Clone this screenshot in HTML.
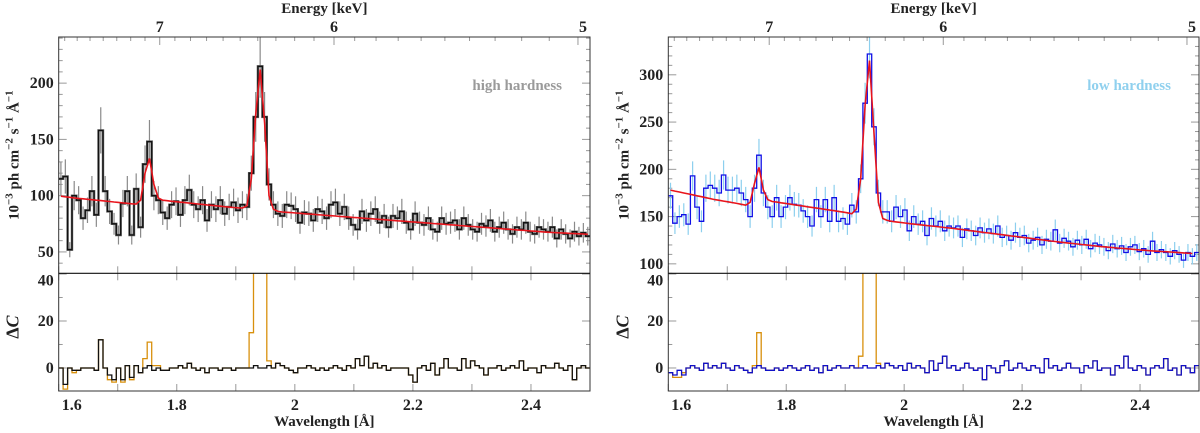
<!DOCTYPE html>
<html><head><meta charset="utf-8"><style>
body{margin:0;background:#fff;width:1200px;height:433px;overflow:hidden}
svg{display:block}
text{font-family:"Liberation Serif","DejaVu Serif",serif;font-weight:bold;fill:#222}
</style></head><body>
<svg id="fig" width="1200" height="433" viewBox="0 0 1200 433" xmlns="http://www.w3.org/2000/svg"></svg>
<script>
// ---- data ----
const binStart = 1.6;
const binWidth = 0.0075;
const xTicksMajor = [1.6, 1.8, 2.0, 2.2, 2.4];
const xTickLabels = ["1.6", "1.8", "2", "2.2", "2.4"];
const energyTicks = [7, 6, 5];
const energyLabels = ["7", "6", "5"];
const yTicksLeft = [50, 100, 150, 200];
const yTicksRight = [100, 150, 200, 250, 300];
const resTicks = [0, 20, 40];

const fluxHigh = [115,117,52,100,96,80,87,104,83,158,104,86,75,65,93,104,65,106,72,128,148,100,96,85,80,92,95,83,96,105,92,88,96,78,92,88,96,84,90,94,87,92,90,120,170,215,170,110,92,84,82,92,91,88,76,85,84,78,88,86,80,92,94,84,90,80,74,70,86,78,84,88,76,82,72,82,80,86,76,70,84,76,74,80,70,68,80,75,76,78,70,80,74,70,68,75,73,78,68,72,76,70,66,72,70,76,68,66,72,70,68,72,62,70,66,62,68,64,67,64];
const modelHigh = [99.5,99,98.5,98,97.6,97.2,96.8,96.4,96,95.6,95.2,94.8,94.4,94,93.6,93.2,92.8,92.5,96,120,133,110,98,96,95.5,95,94.6,94.2,93.8,93.4,93,92.6,92.2,91.8,91.4,91,90.6,90.2,89.8,89.5,89.2,89,91,115,172,212,165,100,88,86,85.5,85.2,84.9,84.6,84.3,84,83.7,83.4,83.1,82.8,82.5,82.2,81.9,81.6,81.3,81,80.7,80.4,80.1,79.8,79.5,79.2,78.9,78.6,78.3,78,77.7,77.4,77.1,76.8,76.5,76.2,75.9,75.6,75.3,75,74.7,74.4,74.1,73.8,73.5,73.2,72.9,72.6,72.3,72,71.7,71.4,71.1,70.8,70.5,70.2,69.9,69.6,69.3,69,68.7,68.4,68.1,67.8,67.5,67.3,67.1,66.9,66.7,66.5,66.3,66.1,65.9,65.7];
const resHigh = [0,-7,0,-1,-1,0,0,0,-1,12,0,-3,-5,0,-5,1,-4,1,-2,0,1,-1,0,-1,-1,0,0,1,0,2,0,-1,0,-2,0,0,-1,0,0,-1,0,0,0,0,1,0,0,1,0,2,1,0,-1,-2,0,0,1,0,-1,0,-1,0,1,0,-1,1,0,4,1,5,0,2,0,1,-1,0,0,0,0,-3,-6,0,1,-1,2,-3,0,4,0,0,-1,4,0,3,1,0,-3,0,0,1,-1,0,1,0,3,-1,0,0,-2,1,0,0,2,0,-1,1,-5,0,1,0];
const noLineBinsHigh = [1,3,11,12,14,16,19,20,21,22,43,44,45,46,47];
const noLineResHigh = [-9,-2,-5,-6,-6,-5,4,11,1,1,15,60,60,60,3];

const fluxLow = [172,143,150,152,142,193,160,145,180,183,180,175,194,178,178,180,175,168,150,180,215,175,160,150,170,150,160,170,163,162,156,150,140,168,150,168,145,170,145,148,142,162,155,190,270,322,245,175,155,155,145,160,150,157,135,150,142,145,130,148,140,145,135,140,138,140,128,137,135,130,138,133,137,132,140,128,130,125,133,128,130,122,125,128,120,126,124,136,122,127,124,118,125,120,126,116,122,120,118,114,121,116,119,112,118,120,113,116,110,124,112,115,112,108,114,110,104,112,108,112];
const modelLow = [178,177,176,175,174,173,172,171,170,169,168,167.2,166.4,165.6,164.8,164,163,162,165,185,202,178,168,166,165.3,164.6,163.9,163.2,162.5,161.8,161.1,160.4,159.7,159,158.3,157.6,156.9,156.2,155.5,154.8,154,153,158,190,268,315,240,165,148,146,145,144.4,143.8,143.2,142.6,142,141.5,141,140.5,140,139.5,139,138.5,138,137.4,136.8,136.2,135.6,135,134.4,133.8,133.2,132.6,132,131.4,130.8,130.2,129.6,129,128.4,127.8,127.2,126.6,126,125.4,124.8,124.2,123.6,123,122.5,122,121.5,121,120.5,120,119.5,119,118.5,118,117.6,117.2,116.8,116.4,116,115.6,115.2,114.8,114.4,114,113.7,113.4,113.1,112.8,112.5,112.2,111.9,111.6,111.3,111];
const resLow = [-2,-3,-1,-3,0,1,0,-1,2,0,1,0,2,0,-1,1,0,-1,-2,0,1,0,-1,-1,0,-1,0,1,0,-1,0,1,-1,0,-2,1,-1,0,1,0,0,1,0,0,1,0,0,1,0,2,1,0,1,-1,2,0,1,0,-2,3,-1,2,5,0,1,-1,0,2,0,-1,0,-5,1,0,-2,1,3,-1,0,2,0,-1,1,0,-2,4,0,1,-1,0,2,0,0,-2,1,0,3,-1,0,0,-3,1,0,5,0,-1,1,0,-3,0,1,0,4,-1,0,-3,1,0,-2,1];
const noLineBinsLow = [1,2,3,19,20,21,43,44,45,46,47];
const noLineResLow = [-4,-4,-2,1,15,0,5,60,60,60,2];

// ---- layout ----
const SVGNS = "http://www.w3.org/2000/svg";
const svg = document.getElementById("fig");
const Y0 = 37, YD = 273.3, Y1 = 391;
const resRange = [-9.8, 40.3];
const panels = [
  {key:"high", x0:58.7, x1:590, yr:[31,241], yt:yTicksLeft, flux:fluxHigh, model:modelHigh, res:resHigh, nlb:noLineBinsHigh, nlr:noLineResHigh,
   dataColor:"#111", fillColor:"#666", errColor:"#8a8a8a", resColor:"#111", label:"high hardness", labelColor:"#9a9a9a", errFrac:0.13},
  {key:"low", x0:668.3, x1:1199, yr:[90,340], yt:yTicksRight, flux:fluxLow, model:modelLow, res:resLow, nlb:noLineBinsLow, nlr:noLineResLow,
   dataColor:"#1010e6", fillColor:null, errColor:"#8ccfee", resColor:"#1010c8", label:"low hardness", labelColor:"#8fd0ee", errFrac:0.08}
];

function el(tag, attrs, parent){
  const e = document.createElementNS(SVGNS, tag);
  for (const k in attrs) e.setAttribute(k, attrs[k]);
  (parent||svg).appendChild(e);
  return e;
}

panels.forEach(p => {
  const g = el("g", {});
  
  
  const xs = v => p.x0 + (v - 1.6) / 0.9 * (p.x1 - p.x0);
  const ys = v => YD - (v - p.yr[0]) / (p.yr[1] - p.yr[0]) * (YD - Y0);
  const yr = v => Y1 - (v - resRange[0]) / (resRange[1] - resRange[0]) * (Y1 - YD);

  const defs = el("defs", {}, g);
  const cp1 = el("clipPath", {id:"cu"+p.key}, defs);
  el("rect", {x:p.x0, y:Y0, width:p.x1-p.x0, height:YD-Y0}, cp1);
  const cp2 = el("clipPath", {id:"cl"+p.key}, defs);
  el("rect", {x:p.x0, y:YD, width:p.x1-p.x0, height:Y1-YD}, cp2);

  const tk = el("g", {stroke:"#999", "stroke-width":1}, g);
  
  
  for (let i = 16; i <= 25; i++) {
    const x = xs(i/10);
    el("line", {x1:x, x2:x, y1:YD, y2:YD-7}, tk);
    el("line", {x1:x, x2:x, y1:YD, y2:YD+7}, tk);
    el("line", {x1:x, x2:x, y1:Y1, y2:Y1-7}, tk);
  }
  for (let e = 5.0; e <= 7.8; e += 0.1) {
    const lam = 12.398 / e; if (lam < 1.6 || lam > 2.5) continue;
    const major = Math.abs(e - Math.round(e)) < 0.01;
    const x = xs(lam);
    el("line", {x1:x, x2:x, y1:Y0, y2:Y0 + (major?8:4)}, tk);
  }
  for (let v = Math.ceil(p.yr[0]/10)*10; v <= p.yr[1]; v += 10) {
    const major = v % 50 === 0, y = ys(v), L = major?8:4;
    el("line", {x1:p.x0, x2:p.x0+L, y1:y, y2:y}, tk);
    el("line", {x1:p.x1, x2:p.x1-L, y1:y, y2:y}, tk);
  }
  for (let v = -10; v <= 40; v += 10) {
    const y = yr(v); if (y > Y1 || y < YD) continue;
    const L = v % 20 === 0 ? 8 : 4;
    el("line", {x1:p.x0, x2:p.x0+L, y1:y, y2:y}, tk);
    el("line", {x1:p.x1, x2:p.x1-L, y1:y, y2:y}, tk);
  }

  const eb = el("g", {stroke:p.errColor, "stroke-width":1.2, "clip-path":"url(#cu"+p.key+")"}, g);
  
  
  p.flux.forEach((v, i) => {
    const x = xs(binStart + binWidth*(i+0.5)), d = v * p.errFrac;
    const l = el("line", {x1:x, x2:x, y1:ys(v-d), y2:ys(v+d)}, eb);
    
    
  });

  const step = (arr, sx, sy) => {
    let d = "";
    arr.forEach((v, i) => {
      const xa = sx(binStart + binWidth*i), xb = sx(binStart + binWidth*(i+1)), y = sy(v);
      d += (i === 0 ? "M" : "L") + xa.toFixed(1) + "," + y.toFixed(1) + "L" + xb.toFixed(1) + "," + y.toFixed(1);
    });
    return d;
  };
  if (p.fillColor) {
    const hf = el("path", {d:step(p.flux, xs, ys), fill:"none", stroke:p.fillColor, "stroke-width":2.4, "clip-path":"url(#cu"+p.key+")"}, g);
    
    
  }
  const h = el("path", {d:step(p.flux, xs, ys), fill:"none", stroke:p.dataColor, "stroke-width":1.3, "clip-path":"url(#cu"+p.key+")"}, g);
  
  

  let md = "";
  p.model.forEach((v, i) => { md += (i ? "L" : "M") + xs(binStart + binWidth*(i+0.5)).toFixed(1) + "," + ys(v).toFixed(1); });
  const m = el("path", {d:md, fill:"none", stroke:"#e8141c", "stroke-width":1.6, "clip-path":"url(#cu"+p.key+")"}, g);
  
  

  const orange = p.res.slice();
  p.nlb.forEach((b, k) => { orange[b] = p.nlr[k]; });
  const ro = el("path", {d:step(orange, xs, yr), fill:"none", stroke:"#d8900c", "stroke-width":1.3, "clip-path":"url(#cl"+p.key+")"}, g);
  
  
  const rb = el("path", {d:step(p.res, xs, yr), fill:"none", stroke:p.resColor, "stroke-width":1.3, "clip-path":"url(#cl"+p.key+")"}, g);
  
  

  const fr = el("rect", {x:p.x0, y:Y0, width:p.x1-p.x0, height:Y1-Y0, fill:"none", stroke:"#333", "stroke-width":1}, g);
  
  
  const dv = el("line", {x1:p.x0, x2:p.x1, y1:YD, y2:YD, stroke:"#111", "stroke-width":1.2}, g);
  
  

  const txt = (s, x, y, name, extra) => {
    const t = el("text", Object.assign({x:x, y:y, "font-size":16}, extra||{}), g);
    t.textContent = s;
    
    
    return t;
  };
  xTicksMajor.forEach((v, i) => {
    const x = i === 0 ? xs(v) + 13 : xs(v);
    txt(xTickLabels[i], x, 410, 'x-tick-label', {"text-anchor":"middle"});
  });
  energyTicks.forEach((e, i) => {
    let x = xs(12.398 / e);
    if (e === 5) x = Math.min(x + 5, p.x1 - 3);
    txt(energyLabels[i], x, 32, 'energy-tick-label', {"text-anchor":"middle"});
  });
  p.yt.forEach(v => txt(String(v), p.x0 - 5, ys(v) + 5, 'y-tick-label', {"text-anchor":"end"}));
  resTicks.forEach(v => { const y = v === 40 ? YD + 12 : yr(v) + 5; txt(String(v), p.x0 - 5, y, 'residual-tick-label', {"text-anchor":"end"}); });
  const cx = (p.x0 + p.x1) / 2;
  txt("Energy [keV]", cx, 13, 'energy-axis-title', {"text-anchor":"middle", "font-size":15});
  txt("Wavelength [Å]", cx, 426, 'wavelength-axis-title', {"text-anchor":"middle", "font-size":15});
  txt(p.label, p.x1 - 28, 90, 'hardness-label', {"text-anchor":"end", style:"fill:"+p.labelColor, "font-size":15});
  const ylx = p.x0 - 40, yly = (Y0 + YD) / 2;
  const yl = el("text", {x:0, y:0, "font-size":15, "text-anchor":"middle", transform:"translate("+ylx+","+yly+") rotate(-90)"}, g);
  yl.innerHTML = '10<tspan dy="-6" font-size="11">−3</tspan><tspan dy="6"> ph cm</tspan><tspan dy="-6" font-size="11">−2</tspan><tspan dy="6"> s</tspan><tspan dy="-6" font-size="11">−1</tspan><tspan dy="6"> Å</tspan><tspan dy="-6" font-size="11">−1</tspan>';
  
  
  const rl = el("text", {x:0, y:0, "font-size":18, "text-anchor":"middle", transform:"translate("+ylx+","+((YD+Y1)/2 - 5)+") rotate(-90)"}, g);
  rl.innerHTML = 'Δ<tspan font-style="italic">C</tspan>';
  
  
});
</script>
</body></html>
